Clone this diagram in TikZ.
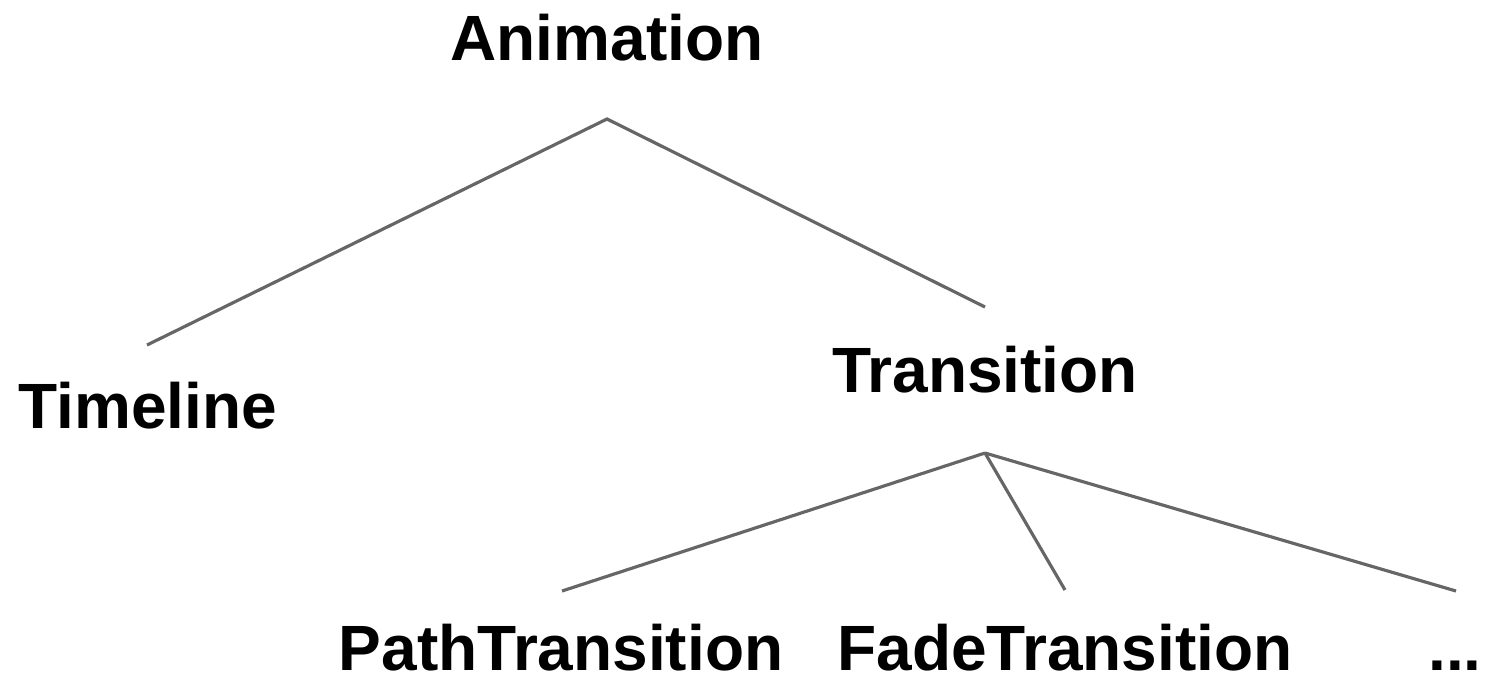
\documentclass[tikz,border=0pt]{standalone}
\usepackage{fontspec}
\setmainfont{Liberation Sans}
\tikzset{
  label/.style={anchor=base, inner sep=0pt, font=\fontsize{18.2}{22}\selectfont\bfseries},
  edge/.style={draw=black!60, line width=0.9pt}
}
\begin{document}
\begin{tikzpicture}[x=0.01cm, y=-0.01cm]
\useasboundingbox (0,0) rectangle (1489,678);
% labels
\node[label] (animation) at (607,60) {Animation};
\node[label] (timeline) at (148,428) {Timeline};
\node[label] (transition) at (985,392) {Transition};
\node[label] (path) at (561,670) {PathTransition};
\node[label] (fade) at (1065,670) {FadeTransition};
\node[label] (more) at (1455,670) {...};
% line ends
\coordinate (animation-s) at (607,119);
\coordinate (timeline-n) at (147,345);
\coordinate (transition-n) at (985,307);
\coordinate (transition-s) at (985,453);
\coordinate (path-n) at (562,591);
\coordinate (fade-n) at (1065,590);
\coordinate (more-n) at (1456,591);
\draw[edge] (timeline-n) -- (animation-s) -- (transition-n);
\foreach \c in {path-n, fade-n, more-n}
  \draw[edge] (transition-s) -- (\c);
\end{tikzpicture}
\end{document}
